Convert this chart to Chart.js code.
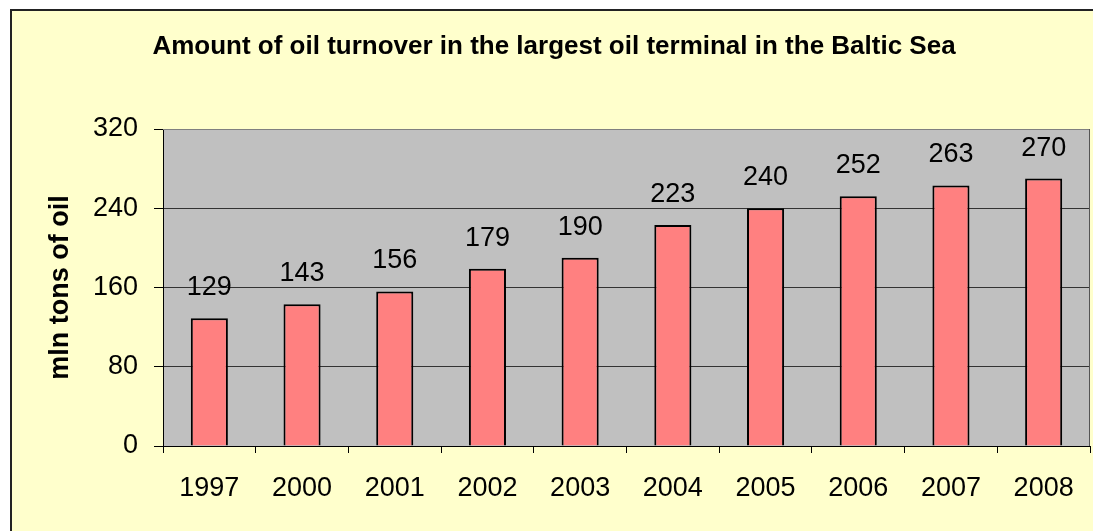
<!DOCTYPE html>
<html>
<head>
<meta charset="utf-8">
<script src="https://cdn.jsdelivr.net/npm/chart.js@4"></script>
<style>
  html, body { margin: 0; padding: 0; background: #fff; }
  #wrap { width: 1093px; height: 531px; position: relative; }
</style>
</head>
<body>
<div id="wrap"><canvas id="c"></canvas></div>
<script>
// datos
const years = ['1997', '2000', '2001', '2002', '2003', '2004', '2005', '2006', '2007', '2008'];
const turnover = [129, 143, 156, 179, 190, 223, 240, 252, 263, 270];
const yTicks = [0, 80, 160, 240, 320];
const chartTitle = 'Amount of oil turnover in the largest oil terminal in the Baltic Sea';
const yTitle = 'mln tons of oil';

const FONT = '"Liberation Sans", Arial, sans-serif';

// fondo amarillo, marco y area gris
const fondo = {
  id: 'fondo',
  beforeDraw(chart) {
    const { ctx, chartArea: a } = chart;
    ctx.save();
    ctx.fillStyle = '#ffffff';
    ctx.fillRect(0, 0, chart.width, chart.height);
    ctx.fillStyle = '#FFFFCC';
    ctx.fillRect(11, 10, chart.width, chart.height);
    ctx.strokeStyle = '#222';
    ctx.lineWidth = 2;
    ctx.strokeRect(11, 10, chart.width + 10, chart.height + 10);
    ctx.fillStyle = '#C0C0C0';
    ctx.fillRect(a.left, a.top, a.right - a.left, a.bottom - a.top);
    ctx.restore();
  },
  afterDatasetsDraw(chart) {
    const { ctx, chartArea: a } = chart;
    ctx.save();
    // borde gris arriba, mas oscuro a la derecha
    ctx.lineWidth = 1;
    ctx.strokeStyle = '#808080';
    ctx.beginPath();
    ctx.moveTo(a.left, a.top + 0.5);
    ctx.lineTo(a.right - 0.5, a.top + 0.5);
    ctx.stroke();
    ctx.strokeStyle = '#555';
    ctx.beginPath();
    ctx.moveTo(a.right - 0.5, a.top);
    ctx.lineTo(a.right - 0.5, a.bottom);
    ctx.stroke();
    // titulo
    ctx.fillStyle = '#000';
    ctx.font = 'bold 26px ' + FONT;
    ctx.textAlign = 'center';
    ctx.textBaseline = 'alphabetic';
    ctx.fillText(chartTitle, 554, 54);
    // etiquetas de valores
    ctx.font = '27px ' + FONT;
    const meta = chart.getDatasetMeta(0);
    meta.data.forEach((bar, i) => {
      ctx.fillText(String(turnover[i]), bar.x, bar.y - 23);
    });
    ctx.restore();
  }
};

new Chart(document.getElementById('c'), {
  type: 'bar',
  data: {
    labels: years,
    datasets: [{
      data: turnover,
      backgroundColor: '#FF8080',
      borderColor: '#000',
      borderWidth: 2,
      barPercentage: 0.4,
      categoryPercentage: 1.0
    }]
  },
  options: {
    responsive: true,
    maintainAspectRatio: false,
    animation: false,
    layout: { padding: { top: 129, right: 3, bottom: 0, left: 0 } },
    plugins: {
      legend: { display: false },
      tooltip: { enabled: false }
    },
    scales: {
      x: {
        afterFit(s) { s.height = 85; },
        grid: { drawOnChartArea: false, drawTicks: true, tickLength: 7, tickColor: '#000', offset: true },
        border: { color: '#000', width: 1 },
        ticks: { color: '#000', font: { family: FONT, size: 27 }, padding: 19, maxRotation: 0 }
      },
      y: {
        min: 0,
        max: 320,
        afterFit(s) { s.width = 163; },
        afterBuildTicks(s) { s.ticks = yTicks.map(v => ({ value: v })); },
        grid: {
          color: ctx => (ctx.tick && ctx.tick.value === 320) ? '#808080' : '#333',
          tickColor: '#000',
          tickLength: 9,
          lineWidth: 1
        },
        border: { color: '#000', width: 1 },
        ticks: { color: '#000', font: { family: FONT, size: 27 }, padding: 16 },
        title: {
          display: true,
          text: yTitle,
          color: '#000',
          font: { family: FONT, size: 27, weight: 'bold' },
          padding: { top: 44, bottom: 0 }
        }
      }
    }
  },
  plugins: [fondo]
});
</script>
</body>
</html>
